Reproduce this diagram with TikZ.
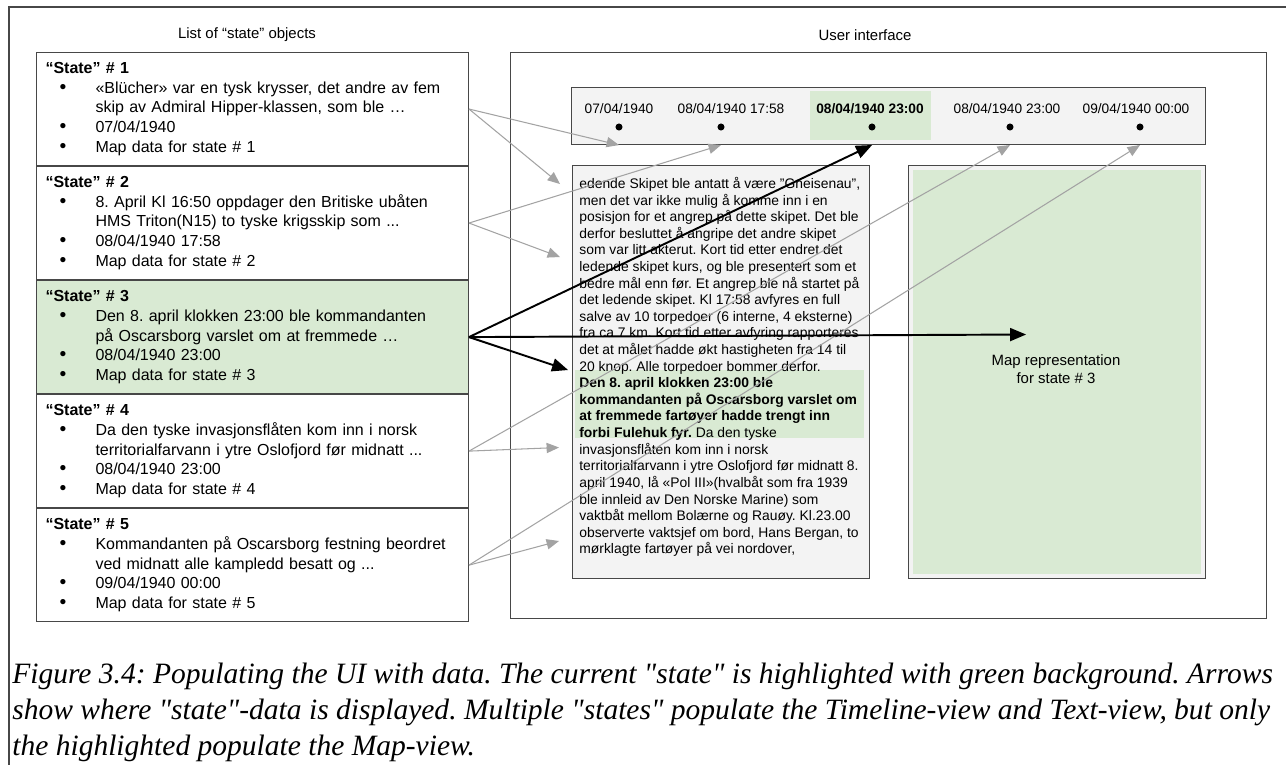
\documentclass[tikz,border=0pt]{standalone}
\usepackage{fontspec}
\setmainfont{Liberation Sans}
\newfontfamily\capfont{Liberation Serif}
\usepackage{tikz}
\usetikzlibrary{arrows}
\usetikzlibrary{positioning, calc}
\usepackage{xcolor}

\definecolor{boxgray}{HTML}{F3F3F3}
\definecolor{hlgreen}{HTML}{D9EAD3}
\definecolor{linkgray}{HTML}{A3A3A3}
\definecolor{framegray}{HTML}{474747}

\newcommand{\bul}{\makebox[1.0cm][l]{\hspace{0.28cm}{\fontsize{11}{11}\selectfont\textbullet}}}
\newcommand{\cont}{\hspace*{1.0cm}}
\frenchspacing

\begin{document}
\begin{tikzpicture}[x=0.02cm, y=-0.02cm,
    statebox/.style={draw=framegray, line width=0.6pt, anchor=north west, minimum width=8.64cm, minimum height=2.26cm,
      text width=8.28cm, inner xsep=0.18cm, align=left, font=\fontsize{9.1}{11.2}\selectfont},
    panel/.style={draw=framegray, line width=0.6pt, fill=boxgray, anchor=north west, inner sep=0pt},
    tlabel/.style={font=\fontsize{7.8}{9}\selectfont, inner sep=0pt},
    tdot/.style={circle, fill=black, inner sep=0pt, minimum size=4pt},
    link/.style={-triangle 45, linkgray, line width=0.6pt},
    mainlink/.style={-triangle 45, black, line width=1.1pt}]
        \useasboundingbox (0,0) rectangle (1286,765);
        \draw[framegray, line width=0.6pt] (1286,7) -- (9,7) -- (9,765);

        % list of states
        \node[font=\fontsize{8.5}{10}\selectfont] (listtitle) at (247,35) {List of “state” objects};
        \node[statebox] (s1) at (36,52) {\textbf{“State” \# 1}\\
          \bul «Blücher» var en tysk krysser, det andre av fem\\
          \cont skip av Admiral Hipper-klassen, som ble …\\
          \bul 07/04/1940\\
          \bul Map data for state \# 1};
        \node[statebox, below=0pt of s1] (s2) {\textbf{“State” \# 2}\\
          \bul 8. April Kl 16:50 oppdager den Britiske ubåten\\
          \cont HMS Triton(N15) to tyske krigsskip som ...\\
          \bul 08/04/1940 17:58\\
          \bul Map data for state \# 2};
        \node[statebox, fill=hlgreen, below=0pt of s2] (s3) {\textbf{“State” \# 3}\\
          \bul Den 8. april klokken 23:00 ble kommandanten\\
          \cont på Oscarsborg varslet om at fremmede …\\
          \bul 08/04/1940 23:00\\
          \bul Map data for state \# 3};
        \node[statebox, below=0pt of s3] (s4) {\textbf{“State” \# 4}\\
          \bul Da den tyske invasjonsflåten kom inn i norsk\\
          \cont territorialfarvann i ytre Oslofjord før midnatt ...\\
          \bul 08/04/1940 23:00\\
          \bul Map data for state \# 4};
        \node[statebox, below=0pt of s4] (s5) {\textbf{“State” \# 5}\\
          \bul Kommandanten på Oscarsborg festning beordret\\
          \cont ved midnatt alle kampledd besatt og ...\\
          \bul 09/04/1940 00:00\\
          \bul Map data for state \# 5};

        % user interface
        \node[font=\fontsize{8.5}{10}\selectfont] (uititle) at (865,35) {User interface};
        \node[draw=framegray, line width=0.6pt, anchor=north west, minimum width=15.12cm, minimum height=11.32cm] (ui) at (510,52) {};

        % timeline
        \node[panel, minimum width=12.68cm, minimum height=1.14cm] (tline) at (571,87) {};
        \node[fill=hlgreen, anchor=north west, inner sep=0pt, minimum width=2.42cm, minimum height=0.98cm] (tlhl) at (810,91) {};
        \node[tlabel] (d1) at (619,109) {07/04/1940};
        \node[tlabel] (d2) at (731,109) {08/04/1940 17:58};
        \node[tlabel] (d3) at (870,109) {\textbf{08/04/1940 23:00}};
        \node[tlabel] (d4) at (1007,109) {08/04/1940 23:00};
        \node[tlabel] (d5) at (1136,109) {09/04/1940 00:00};
        \node[tdot] (p1) at (619,127) {};
        \node[tdot] (p2) at (721,127) {};
        \node[tdot] (p3) at (872,127) {};
        \node[tdot] (p4) at (1010,127) {};
        \node[tdot] (p5) at (1140,127) {};

        % text view
        \node[panel, minimum width=5.94cm, minimum height=8.26cm] (txt) at (572,165) {};
        \node[fill=hlgreen, anchor=north west, inner sep=0pt, minimum width=5.78cm, minimum height=1.36cm] (txthl) at (575,370) {};
        \node[anchor=north west, inner sep=0pt, align=left, font=\fontsize{7.9}{9.45}\selectfont] (txtbody) at (579,177) {%
          edende Skipet ble antatt å være "Gneisenau",\\
          men det var ikke mulig å komme inn i en\\
          posisjon for et angrep på dette skipet. Det ble\\
          derfor besluttet å angripe det andre skipet\\
          som var litt akterut. Kort tid etter endret det\\
          ledende skipet kurs, og ble presentert som et\\
          bedre mål enn før. Et angrep ble nå startet på\\
          det ledende skipet. Kl 17:58 avfyres en full\\
          salve av 10 torpedoer (6 interne, 4 eksterne)\\
          fra ca 7 km. Kort tid etter avfyring rapporteres\\
          det at målet hadde økt hastigheten fra 14 til\\
          20 knop. Alle torpedoer bommer derfor.\\
          \textbf{Den 8. april klokken 23:00 ble}\\
          \textbf{kommandanten på Oscarsborg varslet om}\\
          \textbf{at fremmede fartøyer hadde trengt inn}\\
          \textbf{forbi Fulehuk fyr.} Da den tyske\\
          invasjonsflåten kom inn i norsk\\
          territorialfarvann i ytre Oslofjord før midnatt 8.\\
          april 1940, lå «Pol III»(hvalbåt som fra 1939\\
          ble innleid av Den Norske Marine) som\\
          vaktbåt mellom Bolærne og Rauøy. Kl.23.00\\
          observerte vaktsjef om bord, Hans Bergan, to\\
          mørklagte fartøyer på vei nordover,};

        % map view
        \node[panel, minimum width=5.94cm, minimum height=8.26cm] (map) at (908,165) {};
        \node[fill=hlgreen, inner sep=0pt, minimum width=5.78cm, minimum height=8.08cm] (mapin) at (map.center) {};
        \node[align=center, font=\fontsize{8.5}{10.2}\selectfont] (maplbl) at (1056,369) {Map representation\\for state \# 3};

        % where the data goes
        \coordinate (t1) at (560,184);
        \coordinate (t2) at (560,257);
        \coordinate (t3) at (568,370);
        \coordinate (t4) at (559,447.5);
        \coordinate (t5) at (559,541);
        \coordinate (m3) at (1026,334.5);

        \draw[link] (s1.east) -- (p1 |- tline.south);
        \draw[link] (s1.east) -- (t1);
        \draw[link] (s2.east) -- (p2 |- tline.south);
        \draw[link] (s2.east) -- (t2);
        \draw[link] (s4.east) -- (p4 |- tline.south);
        \draw[link] (s4.east) -- (t4);
        \draw[link] (s5.east) -- (p5 |- tline.south);
        \draw[link] (s5.east) -- (t5);

        \draw[mainlink] (s3.east) -- (p3 |- tline.south);
        \draw[mainlink] (s3.east) -- (m3);
        \draw[mainlink] (s3.east) -- (t3);

        % caption
        \node[anchor=north west, inner sep=0pt, align=left, font=\capfont\itshape\fontsize{16.8}{20.4}\selectfont] (caption) at (12,663) {%
          Figure 3.4: Populating the UI with data. The current "state" is highlighted with green background. Arrows\\
          show where "state"-data is displayed. Multiple "states" populate the Timeline-view and Text-view, but only\\
          the highlighted populate the Map-view.};
\end{tikzpicture}
\end{document}
